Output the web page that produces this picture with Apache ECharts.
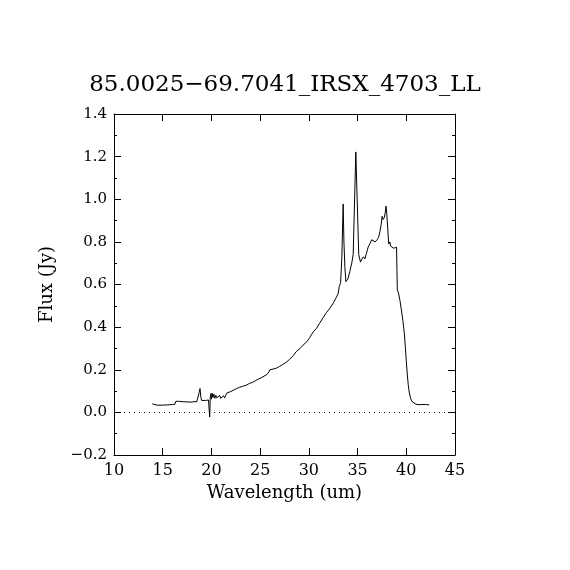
<!DOCTYPE html>
<html>
<head>
<meta charset="utf-8">
<script src="https://cdn.jsdelivr.net/npm/echarts@6/dist/echarts.min.js"></script>
<style>
  html, body { margin: 0; padding: 0; background: #fff; }
  #chart { width: 570px; height: 570px; }
</style>
</head>
<body>
<div id="chart"></div>
<script>
// spectrum: wavelength (um) and flux (Jy)
const wavelength = [
    13.93, 14.1, 14.4, 15.0, 15.5, 16.0, 16.25, 16.35, 16.6, 17.1,
    17.5, 17.8, 18.2, 18.5, 18.65, 18.75, 18.83, 18.92, 19.0, 19.4,
    19.7, 19.78, 19.82, 19.88, 19.95, 20.0, 20.08, 20.15, 20.25, 20.35,
    20.45, 20.55, 20.65, 20.75, 20.85, 20.95, 21.05, 21.15, 21.25, 21.35,
    21.45, 21.55, 21.7, 22.0, 22.3, 22.6, 22.9, 23.2, 23.6, 23.9,
    24.2, 24.5, 24.8, 25.1, 25.4, 25.7, 25.9, 26.0, 26.4, 26.7,
    27.0, 27.3, 27.7, 28.0, 28.4, 28.7, 28.9, 29.1, 29.4, 29.8,
    30.1, 30.46, 30.8, 31.1, 31.48, 31.8, 32.1, 32.5, 32.8, 33.0,
    33.12, 33.26, 33.38, 33.52, 33.6, 33.7, 33.8, 34.0, 34.2, 34.4,
    34.55, 34.82, 35.12, 35.3, 35.45, 35.6, 35.75, 35.9, 36.1, 36.3,
    36.45, 36.6, 36.8, 37.0, 37.15, 37.3, 37.42, 37.52, 37.62, 37.75,
    37.85, 37.92, 38.0, 38.1, 38.2, 38.3, 38.4, 38.55, 38.7, 38.85,
    39.0, 39.08, 39.2, 39.35, 39.5, 39.65, 39.8, 39.9, 40.0, 40.1,
    40.2, 40.3, 40.45, 40.6, 40.8, 41.0, 41.3, 41.6, 41.8, 42.0,
    42.35
];
const flux = [
    0.040, 0.038, 0.034, 0.034, 0.035, 0.037, 0.038, 0.052, 0.052, 0.050,
    0.049, 0.048, 0.050, 0.050, 0.052, 0.095, 0.112, 0.070, 0.056, 0.056,
    0.058, 0.060, -0.022, 0.070, 0.088, 0.062, 0.090, 0.070, 0.085, 0.066,
    0.080, 0.068, 0.075, 0.064, 0.080, 0.066, 0.075, 0.063, 0.078, 0.068,
    0.078, 0.090, 0.088, 0.098, 0.105, 0.112, 0.118, 0.122, 0.128, 0.136,
    0.140, 0.148, 0.156, 0.162, 0.170, 0.178, 0.190, 0.200, 0.204, 0.208,
    0.216, 0.224, 0.236, 0.248, 0.266, 0.285, 0.293, 0.300, 0.315, 0.332,
    0.352, 0.378, 0.395, 0.418, 0.446, 0.468, 0.485, 0.512, 0.538, 0.556,
    0.590, 0.610, 0.720, 0.978, 0.800, 0.680, 0.613, 0.625, 0.660, 0.700,
    0.740, 1.222, 0.740, 0.705, 0.720, 0.730, 0.720, 0.745, 0.777, 0.795,
    0.810, 0.805, 0.800, 0.810, 0.820, 0.850, 0.880, 0.920, 0.905, 0.915,
    0.940, 0.968, 0.930, 0.860, 0.790, 0.800, 0.780, 0.780, 0.770, 0.775,
    0.775, 0.575, 0.560, 0.525, 0.480, 0.430, 0.370, 0.310, 0.240, 0.180,
    0.130, 0.095, 0.065, 0.050, 0.042, 0.038, 0.036, 0.037, 0.039, 0.037,
    0.035
];
const xTicks = [10, 45, 5];
const yTicks = [-0.2, 1.4, 0.2];

const chart = echarts.init(document.getElementById('chart'));
const serif = 'DejaVu Serif';

function yLabel(v) {
    return v.toFixed(1).replace('-', '\u2212');
}

// common look for the four frame axes (ticks point inward)
function frameAxis(extra) {
    return Object.assign({
        type: 'value',
        axisLine: { show: true, onZero: false, lineStyle: { color: '#000', width: 1 } },
        axisTick: { show: true, inside: true, length: 7, lineStyle: { color: '#000' } },
        splitLine: { show: false },
        axisLabel: { color: '#000', fontFamily: serif, fontSize: 15 }
    }, extra);
}

const option = {
    animation: false,
    backgroundColor: '#fff',
    title: {
        text: '85.0025\u221269.7041_IRSX_4703_LL',
        left: 'center',
        top: 69,
        textStyle: { color: '#000', fontFamily: serif, fontSize: 23, fontWeight: 'normal' }
    },
    grid: { left: 114, right: 115, top: 114, bottom: 115 },
    xAxis: [
        frameAxis({
            position: 'bottom', min: xTicks[0], max: xTicks[1], interval: xTicks[2],
            name: 'Wavelength (um)', nameLocation: 'middle', nameGap: 28,
            nameTextStyle: { color: '#000', fontFamily: serif, fontSize: 18 },
            axisLabel: { color: '#000', fontFamily: serif, fontSize: 16, margin: 8 }
        }),
        frameAxis({
            position: 'top', min: xTicks[0], max: xTicks[1], interval: xTicks[2],
            axisLabel: { show: false }
        })
    ],
    yAxis: [
        frameAxis({
            position: 'left', min: yTicks[0], max: yTicks[1], interval: yTicks[2],
            name: 'Flux (Jy)', nameLocation: 'middle', nameGap: 58,
            nameTextStyle: { color: '#000', fontFamily: serif, fontSize: 18 },
            minorTick: { show: true, splitNumber: 2, length: 3, lineStyle: { color: '#000' } },
            axisLabel: { color: '#000', fontFamily: serif, fontSize: 15, margin: 7, formatter: yLabel }
        }),
        frameAxis({
            position: 'right', min: yTicks[0], max: yTicks[1], interval: yTicks[2],
            minorTick: { show: true, splitNumber: 2, length: 3, lineStyle: { color: '#000' } },
            axisLabel: { show: false }
        })
    ],
    series: [{
        type: 'line',
        data: wavelength.map((w, i) => [w, flux[i]]),
        showSymbol: false,
        lineStyle: { color: '#000', width: 1 },
        markLine: {
            silent: true,
            symbol: 'none',
            label: { show: false },
            lineStyle: { color: '#000', width: 1, type: [1, 4] },
            data: [{ yAxis: 0 }]
        }
    }]
};

chart.setOption(option);
</script>
</body>
</html>
